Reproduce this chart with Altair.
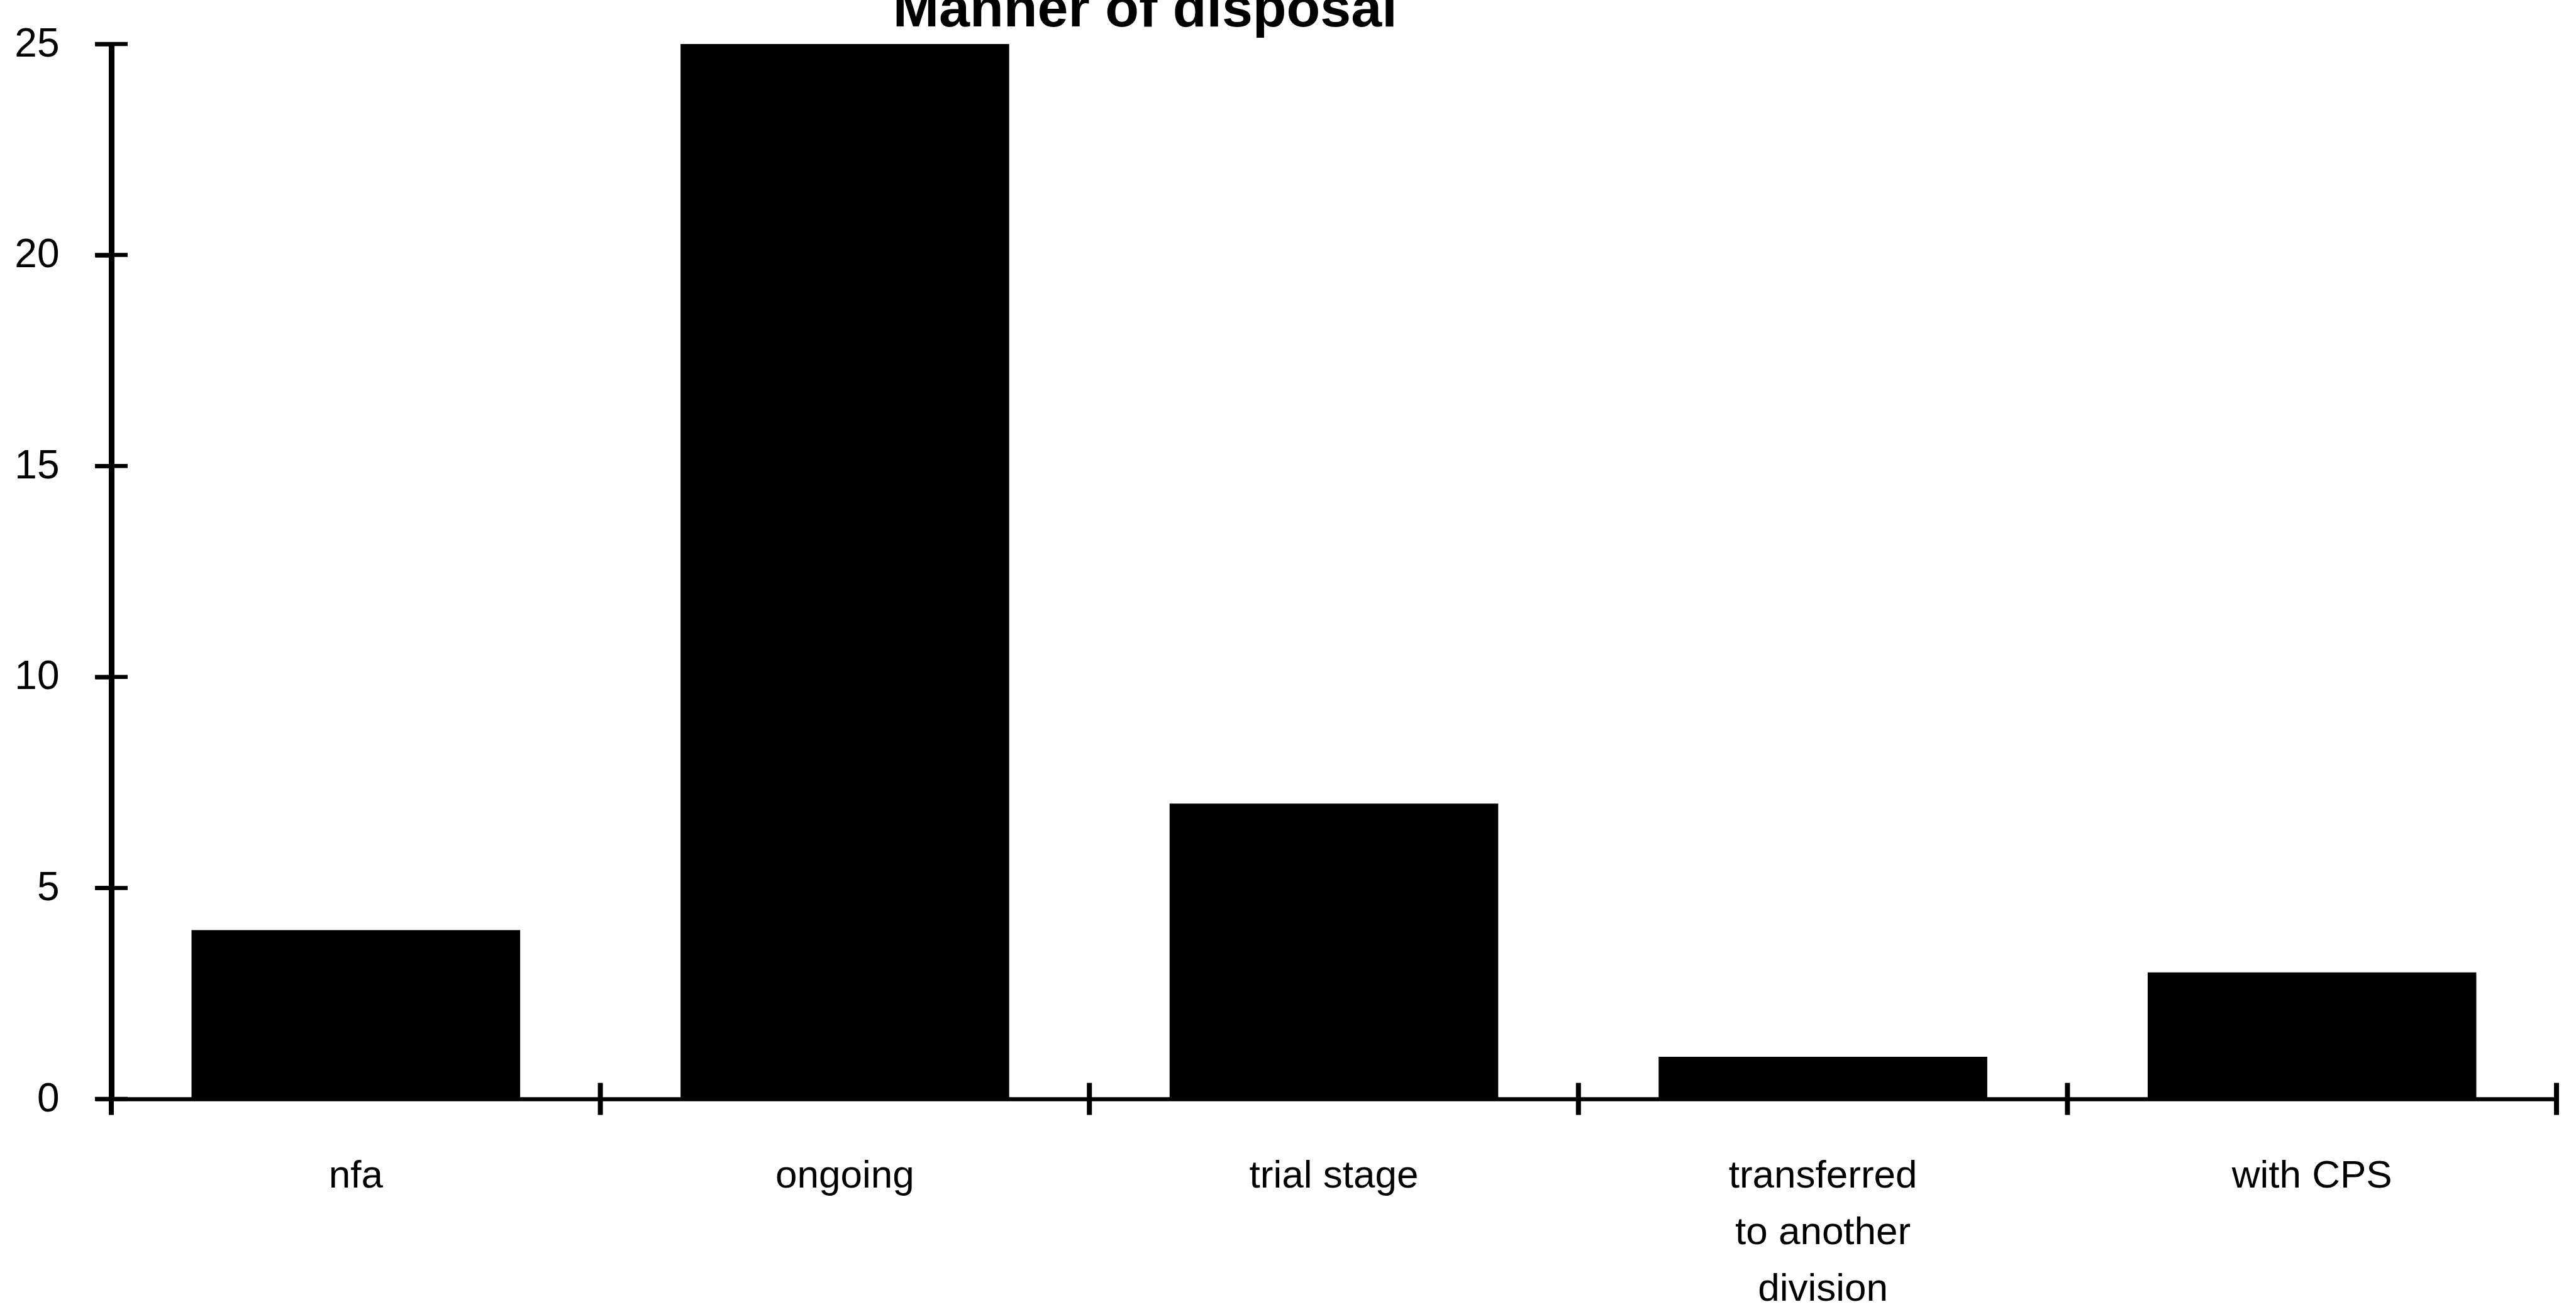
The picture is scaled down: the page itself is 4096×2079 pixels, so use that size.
import altair as alt
import pandas as pd

categories = ["nfa", "ongoing", "trial stage", "transferred to another division", "with CPS"]
values = [4, 25, 7, 1, 3]
y_ticks = [0, 5, 10, 15, 20, 25]
boundaries = [0, 1, 2, 3, 4, 5]
label_lines = {"transferred to another division": ["transferred", "to another", "division"]}

W, H = 3888, 1678
FONT = "Liberation Sans"

df = pd.DataFrame({"cat": categories, "val": values})
yt = pd.DataFrame({"val": y_ticks})
bd = pd.DataFrame({"b": boundaries})

expr = "datum.value"
for k, v in label_lines.items():
    arr = "[" + ",".join("'" + s + "'" for s in v) + "]"
    expr = f"datum.value == '{k}' ? {arr} : " + expr

y_scale = alt.Scale(domain=[0, 25], nice=False)
y_axis = alt.Axis(title=None, values=y_ticks, grid=False, tickSize=26,
                  tickWidth=6.5, tickColor="black", domainColor="black",
                  domainWidth=9, labelFontSize=64, labelFont=FONT,
                  labelColor="black", labelPadding=57, labelFlush=False,
                  labelOverlap=False)

bars = alt.Chart(df).mark_bar(color="black").encode(
    x=alt.X("cat:N", sort=categories,
            scale=alt.Scale(paddingInner=0.328, paddingOuter=0.164),
            axis=alt.Axis(title=None, ticks=False, labelAngle=0, labelFontSize=62,
                          labelFont=FONT, labelColor="black", labelPadding=91,
                          labelBaseline="top", labelLineHeight=90, labelLimit=0,
                          labelExpr=expr, domainColor="black", domainWidth=6.7)),
    y=alt.Y("val:Q", scale=y_scale, axis=y_axis),
)

xticks = alt.Chart(bd).mark_tick(orient="vertical", size=51, thickness=8, color="black",
                                 opacity=1).encode(
    x=alt.X("b:Q", scale=alt.Scale(domain=[0, 5], nice=False, zero=False), axis=None),
    y=alt.YDatum(0, scale=y_scale, axis=y_axis),
)

yticks = alt.Chart(yt).mark_tick(orient="horizontal", size=52, thickness=6.5, color="black",
                                 opacity=1).encode(
    x=alt.value(0),
    y=alt.Y("val:Q", scale=y_scale, axis=y_axis),
)

chart = alt.layer(bars, xticks, yticks).resolve_scale(x="independent").properties(
    width=W, height=H,
    background="white",
    title=alt.TitleParams("Manner of disposal", anchor="start", dx=1397, dy=96, fontSize=88,
                          font="Liberation Sans Narrow, " + FONT, fontWeight="bold",
                          baseline="alphabetic", offset=4, color="black"),
    autosize=alt.AutoSizeParams(type="none"),
    padding={"left": 177, "top": 70, "right": 31, "bottom": 331},
).configure_view(stroke=None)

chart.save("out.html", embed_options={"renderer": "svg", "actions": False})
